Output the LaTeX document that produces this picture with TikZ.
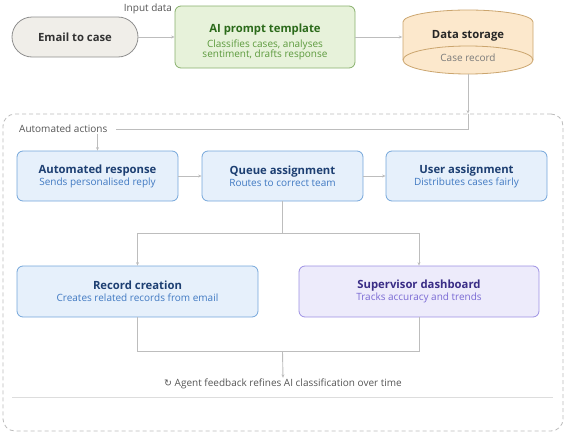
\documentclass[tikz,border=0pt]{standalone}
\usepackage{fontspec}
\setmainfont{Open Sans}
\newfontfamily\symfont{DejaVu Sans}
\usetikzlibrary{arrows.meta}
\definecolor{lineg}{HTML}{BDBDBD}
\definecolor{labg}{HTML}{555555}
\definecolor{bluef}{HTML}{E6F0FB}
\definecolor{blueb}{HTML}{74A6DA}
\definecolor{bluet}{HTML}{1D3F72}
\definecolor{blues}{HTML}{4079C2}
\definecolor{greenf}{HTML}{E7F2DA}
\definecolor{greenb}{HTML}{88B06C}
\definecolor{greent}{HTML}{2B6A1A}
\definecolor{greens}{HTML}{5C9A3D}
\definecolor{purf}{HTML}{EDEBFB}
\definecolor{purb}{HTML}{9D90E3}
\definecolor{purt}{HTML}{3A2D86}
\definecolor{purs}{HTML}{7A6AD4}
\definecolor{emailf}{HTML}{F0EEE9}
\definecolor{emailb}{HTML}{8E8E8E}
\definecolor{emailt}{HTML}{333333}
\definecolor{storf}{HTML}{FCE8CC}
\definecolor{storb}{HTML}{CBA56E}
\definecolor{stors}{HTML}{7A7A7A}
\definecolor{grpb}{HTML}{BBBBBB}
\definecolor{sepg}{HTML}{DDDDDD}
\newcommand{\ttl}[1]{{\fontsize{11.3}{12.5}\selectfont\bfseries #1}}
\newcommand{\sub}[1]{{\fontsize{10}{12}\selectfont #1}}
\tikzset{
  x=1pt, y=-1pt,
  conn/.style={draw=lineg, line width=0.9pt},
  arr/.style={conn, -{Stealth[length=3.5pt,width=3pt]}},
  card/.style={draw, rounded corners=6pt, line width=0.8pt, inner sep=0pt, align=center, font=\fontsize{10}{12}\selectfont},
  bluecard/.style={card, fill=bluef, draw=blueb, text=blues},
  lbl/.style={text=labg, font=\fontsize{10}{11}\selectfont, inner sep=1pt},
}
\begin{document}
\begin{tikzpicture}
\useasboundingbox (0,0) rectangle (568,434);
% group
\node[draw=grpb, dash pattern=on 4pt off 3pt, line width=0.8pt, rounded corners=12pt, minimum width=560pt, minimum height=317pt, inner sep=0pt] (group) at (283,272.5) {};
\draw[draw=sepg, line width=0.8pt] (12,397) -- (553,397);

% top row
\node[draw=emailb, fill=emailf, rounded corners=20pt, line width=0.8pt, minimum width=126pt, minimum height=40pt, inner sep=0pt, text=emailt] (email) at (75,37) {\ttl{Email to case}};
\node[card, fill=greenf, draw=greenb, minimum width=180pt, minimum height=62pt] (ai) at (265,37) {};
\node[align=center, inner sep=0pt, text=greens, font=\fontsize{10}{10.5}\selectfont] (aitext) at (265,42) {\textcolor{greent}{\ttl{AI prompt template}}\\[4pt]Classifies cases, analyses\\sentiment, drafts response};
\node[lbl] (inlbl) at (148,9) {Input data};

% storage cylinder
\node[minimum width=131pt, minimum height=64pt, inner sep=0pt] (storage) at (468,42) {};
\fill[storf] (403,22) arc[start angle=180, end angle=0, x radius=65pt, y radius=12pt] -- (533,60) arc[start angle=0, end angle=-180, x radius=65pt, y radius=14pt] -- cycle;
\draw[storb, line width=0.8pt] (403,60) -- (403,22) arc[start angle=180, end angle=0, x radius=65pt, y radius=12pt] -- (533,60);
\draw[storb, line width=0.8pt] (468,60) ellipse[x radius=65pt, y radius=14pt];
\node[inner sep=0pt, text=black!85] (stortitle) at (468,36) {\ttl{Data storage}};
\node[inner sep=0pt, text=stors] (storsub) at (468,58) {\sub{Case record}};

\draw[arr] (email) -- (ai);
\draw[arr] (ai.east) -- (ai.east -| storage.west);

% automated actions
\node[lbl, anchor=west] (autolbl) at (18,129) {Automated actions};
\node[bluecard, minimum width=161pt, minimum height=50pt] (autoresp) at (97.5,176) {\textcolor{bluet}{\ttl{Automated response}}\\Sends personalised reply};
\node[bluecard, minimum width=161pt, minimum height=50pt] (queue) at (282.5,176) {\textcolor{bluet}{\ttl{Queue assignment}}\\Routes to correct team};
\node[bluecard, minimum width=161pt, minimum height=50pt] (user) at (466.5,176) {\textcolor{bluet}{\ttl{User assignment}}\\Distributes cases fairly};
\node[bluecard, minimum width=241pt, minimum height=51pt] (record) at (137.5,291.5) {\textcolor{bluet}{\ttl{Record creation}}\\Creates related records from email};
\node[card, fill=purf, draw=purb, text=purs, minimum width=240pt, minimum height=51pt] (super) at (419,291.5) {\textcolor{purt}{\ttl{Supervisor dashboard}}\\Tracks accuracy and trends};
\node[lbl, font=\fontsize{10}{12}\selectfont] (feedback) at (283,384) {{\symfont\fontsize{9.5}{10}\selectfont ↻} Agent feedback refines AI classification over time};

\draw[arr] (storage.south) -- (storage.south |- group.north);
\draw[conn] (storage.south |- group.north) |- ([xshift=8pt]autolbl.east);
\draw[arr] (autolbl.south -| autoresp.north) -- (autoresp.north);
\draw[arr] (autoresp) -- (queue);
\draw[arr] (queue) -- (user);
\draw[conn] (queue.south) -- ++(0,32) coordinate (split);
\draw[arr] (split) -| (record.north);
\draw[arr] (split) -| (super.north);
\draw[conn] (record.south) -- ++(0,34) coordinate (mergeL) -| (super.south);
\draw[arr] (mergeL -| queue.south) -- (feedback.north);
\end{tikzpicture}
\end{document}
